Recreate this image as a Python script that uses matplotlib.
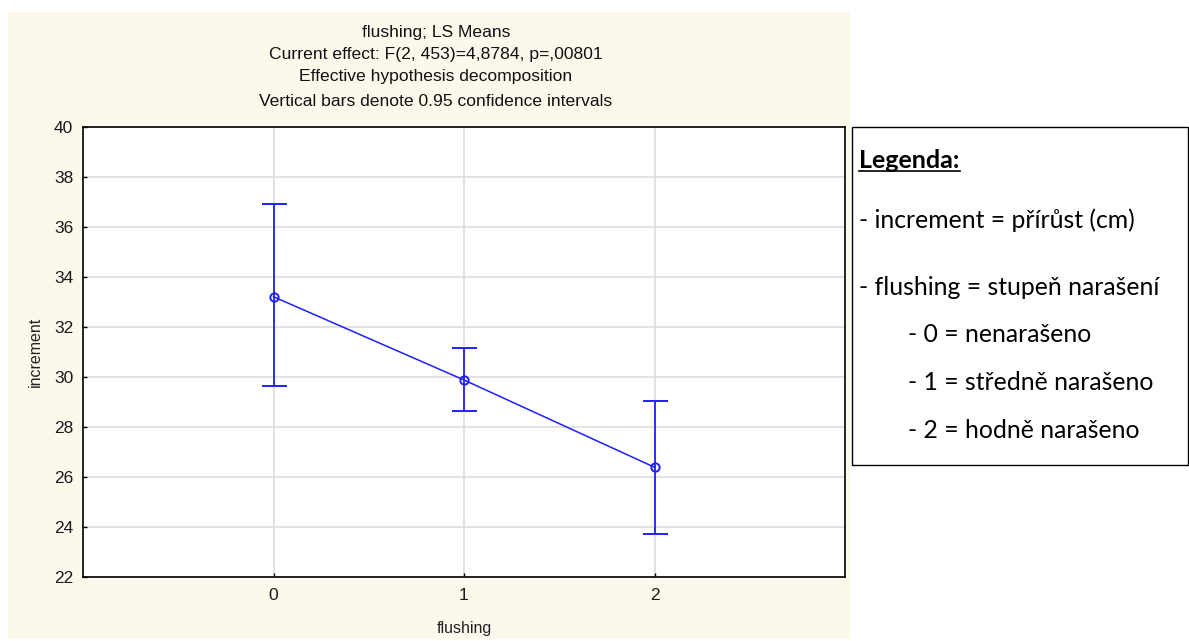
import matplotlib
matplotlib.use("Agg")
import matplotlib.pyplot as plt
from matplotlib.patches import Rectangle
import numpy as np

# Data
categories = [0, 1, 2]
means = [33.21, 29.88, 26.39]
ci_upper = [36.92, 31.16, 29.04]
ci_lower = [29.63, 28.65, 23.72]

title_lines = ["flushing; LS Means",
               "Current effect: F(2, 453)=4,8784, p=,00801",
               "Effective hypothesis decomposition",
               "Vertical bars denote 0.95 confidence intervals"]
legend_title = "Legenda:"
legend_lines = ["- increment = přírůst (cm)",
                "- flushing = stupeň narašení",
                "- 0 = nenarašeno",
                "- 1 = středně narašeno",
                "- 2 = hodně narašeno"]

W, H = 1189, 641
fig = plt.figure(figsize=(W / 100, H / 100), dpi=100)
fig.patch.set_facecolor("white")

def fx(px):
    return px / W

def fy(py):
    return 1 - py / H

# beige panel
fig.patches.append(Rectangle((fx(8), fy(639)), fx(850) - fx(8), fy(12) - fy(639),
                             transform=fig.transFigure, facecolor="#fdf8ec",
                             edgecolor="none", zorder=-5))

narrow = ["Liberation Sans Narrow", "Liberation Sans", "DejaVu Sans"]

ax = fig.add_axes([fx(83), fy(577), fx(845) - fx(83), fy(127) - fy(577)])
ax.set_zorder(2)
ax.set_facecolor("white")

means_a = np.array(means)
yerr = [means_a - np.array(ci_lower), np.array(ci_upper) - means_a]
blue = "#1f1fff"
ax.errorbar(categories, means, yerr=yerr, color=blue, ecolor=blue, lw=1.1,
            elinewidth=1.3, capsize=9, capthick=1.3, marker="o", ms=6,
            mfc="none", mec=blue, mew=1.4, zorder=3)

ax.set_xlim(-1, 3)
ax.set_ylim(22, 40)
ax.set_xticks(categories)
ax.set_yticks(np.arange(22, 41, 2))
ax.grid(True, color="#dedede", lw=1.2)
ax.set_axisbelow(True)
for s in ax.spines.values():
    s.set_color("black")
    s.set_linewidth(1.2)
ax.tick_params(axis="both", direction="in", length=3, width=1, color="black",
               labelsize=12.5, labelcolor="#1a1a1a")
for lab in ax.get_xticklabels() + ax.get_yticklabels():
    lab.set_family(narrow)
ax.tick_params(axis="y", pad=7)
ax.tick_params(axis="x", pad=8)

ax.set_ylabel("increment", fontsize=11.5, family=narrow, color="#222222", labelpad=8)
ax.set_xlabel("flushing", fontsize=11.5, family=narrow, color="#222222", labelpad=13)

# title lines
ty = [32, 54, 77, 101]
for t, y in zip(title_lines, ty):
    fig.text(fx(436), fy(y), t, ha="center", va="center", fontsize=12.6,
             family=narrow, color="#111111")

# legend box
fig.patches.append(Rectangle((fx(852), fy(465)), fx(1188) - fx(852), fy(127) - fy(465),
                             transform=fig.transFigure, facecolor="white",
                             edgecolor="black", lw=1.0, zorder=1))
cal = ["Lato", "Open Sans", "DejaVu Sans"]
fig.text(fx(859), fy(160), legend_title, ha="left", va="center", fontsize=18,
         fontweight="bold", family=cal, color="black", zorder=3)
fig.add_artist(plt.Line2D([fx(859), fx(960)], [fy(171), fy(171)],
                          transform=fig.transFigure, color="black", lw=1.2, zorder=3))
ly = [220, 287, 334, 382, 431]
lx = [859, 859, 908, 908, 908]
for t, x, y in zip(legend_lines, lx, ly):
    fig.text(fx(x), fy(y), t, ha="left", va="center", fontsize=17.8,
             family=cal, color="black", zorder=3)

fig.savefig("out.png", dpi=100, facecolor=fig.get_facecolor())
